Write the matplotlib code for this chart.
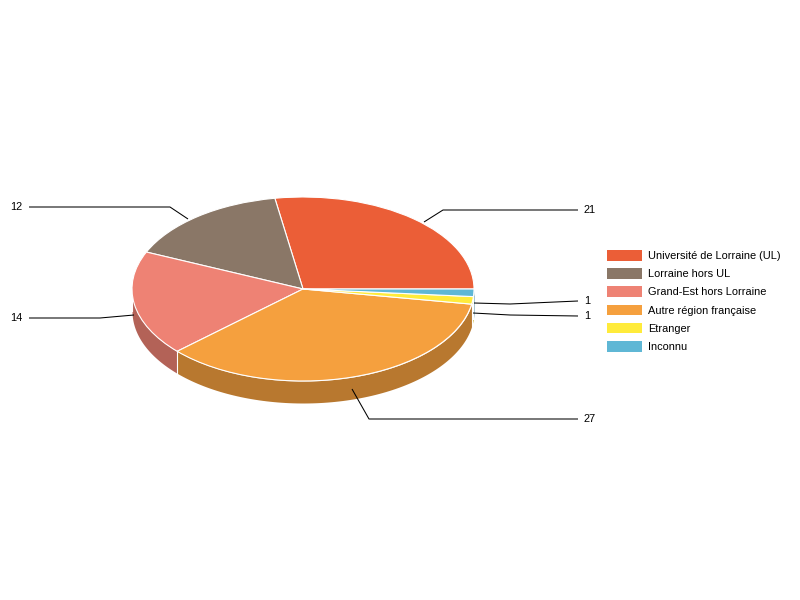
import numpy as np
import matplotlib
matplotlib.use('Agg')
import matplotlib.pyplot as plt
from matplotlib.patches import Patch

categories = ['Université de Lorraine (UL)', 'Lorraine hors UL', 'Grand-Est hors Lorraine',
              'Autre région française', 'Etranger', 'Inconnu']
values = [21, 12, 14, 27, 1, 1]
colors = ['#EB5E37', '#8A7767', '#EE8274', '#F5A03E', '#FFEB3B', '#5FB7D5']

W, H = 800, 600
cx, cy = 303, 289
rx, ry = 171, 92
depth = 22 / ry

plt.rcParams['font.family'] = ['Liberation Sans', 'DejaVu Sans']
fig = plt.figure(figsize=(W / 100, H / 100), dpi=100, facecolor='white')
ax = fig.add_axes([0, 0, 1, 1])


# position en pixels de l'image -> coordonnees du camembert
def px(x, y):
    return (x - cx) / rx, (cy - y) / ry


wedges, _ = ax.pie(values, colors=colors, startangle=0, counterclock=True, radius=1,
                   wedgeprops={'edgecolor': 'white', 'linewidth': 0.8, 'zorder': 3})
ax.set_aspect('auto')
ax.set_xlim(px(0, 0)[0], px(W, 0)[0])
ax.set_ylim(px(0, H)[1], px(0, 0)[1])
ax.axis('off')

# paroi du camembert : seulement la moitie avant
edges = np.concatenate([[0], np.cumsum(values)]) / sum(values) * 360
for i, col in enumerate(colors):
    a0, a1 = max(edges[i], 180), min(edges[i + 1], 360)
    if a1 <= a0:
        continue
    t = np.radians(np.linspace(a0, a1, 100))
    dark = tuple(c * 0.75 for c in matplotlib.colors.to_rgb(col))
    ax.fill_between(np.cos(t), np.sin(t), np.sin(t) - depth, color=dark, lw=0, zorder=1)
    ax.plot([np.cos(t[0])] * 2, [np.sin(t[0]), np.sin(t[0]) - depth], color='white', lw=0.8, zorder=2)

# traits de renvoi (pixels) et position du texte, dans l'ordre des categories
leaders = [
    ([(424, 222), (443, 210), (578, 210)], 584, 'left'),
    ([(188, 219), (170, 207), (29, 207)], 22, 'right'),
    ([(134, 315), (100, 318), (29, 318)], 22, 'right'),
    ([(352, 389), (369, 419), (578, 419)], 584, 'left'),
    ([(473, 313), (510, 315), (578, 316)], 584, 'left'),
    ([(474, 303), (510, 304), (578, 301)], 584, 'left'),
]
for val, (pts, tx, ha) in zip(values, leaders):
    xy = np.array([px(*p) for p in pts])
    ax.plot(xy[:, 0], xy[:, 1], color='black', lw=0.75, zorder=4, solid_capstyle='butt')
    ax.text(*px(tx, pts[-1][1]), str(val), ha=ha, va='center', fontsize=7.9, color='black')

handles = [Patch(facecolor=c, edgecolor='none') for c in colors]
fig.legend(handles, categories, loc='upper left', bbox_to_anchor=(607 / W, 1 - 250 / H),
           frameon=False, fontsize=7.9, borderpad=0, borderaxespad=0, handlelength=3.18,
           handleheight=1.1, handletextpad=0.55, labelspacing=0.66, labelcolor='black')

fig.savefig('out.png', dpi=100)
